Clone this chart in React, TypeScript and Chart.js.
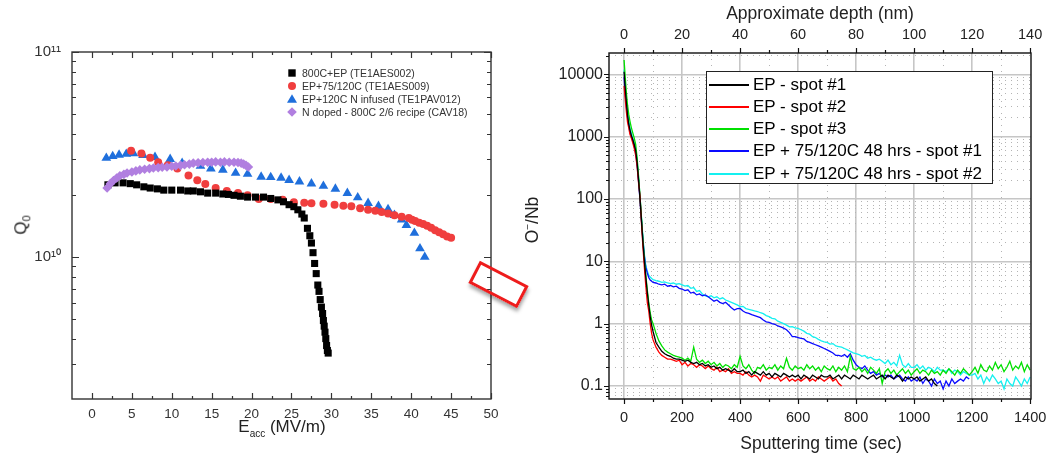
import React, { useEffect, useRef } from 'react';
import { Chart, registerables } from 'chart.js';
Chart.register(...registerables);

const FONT = "'Liberation Sans', Arial, sans-serif";

// ---------------- Left chart: Q0 vs Eacc ----------------
const legendLeft = [
  '800C+EP (TE1AES002)',
  'EP+75/120C (TE1AES009)',
  'EP+120C N infused (TE1PAV012)',
  'N doped - 800C 2/6 recipe (CAV18)',
];

const eBaseline = [2.0, 2.9, 3.9, 4.8, 5.6, 6.5, 7.3, 8.2, 9.0, 10.0, 11.1, 12.0, 12.7, 13.6, 14.5, 15.5, 16.4, 17.1, 17.8, 18.6, 19.5, 20.5, 21.5, 22.4, 23.3, 24.0, 24.7, 25.3, 25.8, 26.3, 26.6, 27.0, 27.3, 27.5, 27.7, 27.9, 28.1, 28.3, 28.45, 28.6, 28.75, 28.9, 29.0, 29.1, 29.2, 29.3, 29.4, 29.5, 29.6];
const qBaseline = [2.25, 2.3, 2.3, 2.28, 2.25, 2.2, 2.17, 2.15, 2.12, 2.12, 2.12, 2.1, 2.1, 2.08, 2.05, 2.05, 2.03, 2.02, 2.0, 1.98, 1.96, 1.96, 1.96, 1.93, 1.9, 1.86, 1.8, 1.76, 1.7, 1.62, 1.55, 1.38, 1.27, 1.17, 1.05, 0.93, 0.83, 0.73, 0.68, 0.62, 0.57, 0.53, 0.49, 0.46, 0.43, 0.4, 0.37, 0.35, 0.34];

const eLowT = [4.9, 6.2, 7.3, 8.3, 9.5, 10.7, 12.1, 13.2, 14.2, 15.5, 16.9, 18.3, 19.5, 20.9, 22.4, 23.9, 25.3, 26.6, 27.5, 29.0, 30.4, 31.5, 32.5, 33.6, 34.6, 35.5, 36.3, 37.1, 37.9, 38.8, 39.7, 40.1, 40.5, 41.0, 41.5, 42.0, 42.5, 43.0, 43.5, 44.0, 44.5, 45.0];
const qLowT = [3.3, 3.2, 3.05, 2.9, 2.8, 2.7, 2.5, 2.37, 2.27, 2.17, 2.1, 2.05, 2.0, 1.92, 1.92, 1.9, 1.85, 1.84, 1.83, 1.82, 1.8, 1.78, 1.77, 1.73, 1.7, 1.68, 1.66, 1.63, 1.6, 1.57, 1.55, 1.52, 1.5, 1.47, 1.45, 1.42, 1.39, 1.35, 1.32, 1.29, 1.26, 1.24];

const eInfused = [1.8, 2.6, 3.4, 4.3, 5.2, 6.4, 7.9, 9.8, 11.3, 13.6, 14.9, 16.4, 18.0, 19.5, 21.2, 22.4, 23.7, 24.7, 26.0, 27.5, 29.0, 30.5, 32.0, 33.3, 34.6, 35.9, 37.1, 37.9, 38.8, 39.4, 40.4, 41.1, 41.7];
const qInfused = [3.04, 3.1, 3.15, 3.18, 3.2, 3.14, 3.07, 3.0, 2.87, 2.78, 2.7, 2.66, 2.57, 2.54, 2.46, 2.45, 2.43, 2.37, 2.33, 2.28, 2.22, 2.15, 2.05, 1.95, 1.83, 1.77, 1.71, 1.6, 1.52, 1.43, 1.31, 1.1, 1.0];

const eDoped = [1.9, 2.3, 2.7, 3.1, 3.5, 4.0, 4.4, 5.0, 5.5, 6.0, 6.6, 7.2, 7.7, 8.3, 8.8, 9.4, 10.0, 10.5, 11.1, 11.6, 12.2, 12.7, 13.3, 13.9, 14.5, 15.0, 15.5, 16.1, 16.6, 17.2, 17.8, 18.3, 18.7, 19.0, 19.3, 19.6];
const qDoped = [2.17, 2.28, 2.36, 2.43, 2.49, 2.53, 2.57, 2.6, 2.63, 2.66, 2.68, 2.7, 2.72, 2.73, 2.74, 2.75, 2.77, 2.78, 2.8, 2.82, 2.84, 2.87, 2.88, 2.89, 2.9, 2.9, 2.91, 2.9, 2.91, 2.9, 2.9, 2.89, 2.87, 2.84, 2.8, 2.75];
const qUnit = 1e10;

const eTickLabels = [0, 5, 10, 15, 20, 25, 30, 35, 40, 45, 50];
const qMajorTicks = [1e10, 1e11];
const qMajorLabels = ['10¹⁰', '10¹¹'];

// ---------------- Right chart: O-/Nb vs sputtering time ----------------
const legendRight = ['EP - spot #1', 'EP - spot #2', 'EP - spot #3', 'EP + 75/120C 48 hrs - spot #1', 'EP + 75/120C 48 hrs - spot #2'];

const sputterTime = [0, 4, 8, 12, 16, 20, 25, 30, 35, 40, 45, 50, 55, 60, 65, 70, 75, 80, 85, 90, 95,
  100, 110, 120, 130, 140, 150, 160, 170, 180, 190,
  200, 210, 220, 230, 240, 250, 260, 270, 280, 290,
  300, 310, 320, 330, 340, 350, 360, 370, 380, 390,
  400, 410, 420, 430, 440, 450, 460, 470, 480, 490,
  500, 510, 520, 530, 540, 550, 560, 570, 580, 590,
  600, 610, 620, 630, 640, 650, 660, 670, 680, 690,
  700, 710, 720, 730, 740, 750, 760, 770, 780, 790,
  800, 810, 820, 830, 840, 850, 860, 870, 880, 890,
  900, 910, 920, 930, 940, 950, 960, 970, 980, 990,
  1000, 1010, 1020, 1030, 1040, 1050, 1060, 1070, 1080, 1090,
  1100, 1110, 1120, 1130, 1140, 1150, 1160, 1170, 1180, 1190,
  1200, 1210, 1220, 1230, 1240, 1250, 1260, 1270, 1280, 1290,
  1300, 1310, 1320, 1330, 1340, 1350, 1360, 1370, 1380, 1390, 1400];

const oEpSpot1 = [11000, 6000, 3500, 2200, 1600, 1300, 1050, 900, 750, 600, 380, 200, 100, 45, 20, 10, 5.5, 3.2, 2.0, 1.3, 0.95,
  0.75, 0.5, 0.42, 0.36, 0.33, 0.31, 0.3, 0.28, 0.27, 0.27,
  0.26, 0.25, 0.26, 0.24, 0.23, 0.24, 0.22, 0.23, 0.21, 0.22,
  0.2, 0.21, 0.19, 0.2, 0.18, 0.19, 0.18, 0.17, 0.19, 0.17,
  0.17, 0.18, 0.16, 0.17, 0.15, 0.17, 0.16, 0.15, 0.17, 0.15,
  0.16, 0.14, 0.16, 0.15, 0.14, 0.16, 0.15, 0.14, 0.15, 0.14,
  0.15, 0.13, 0.15, 0.14, 0.13, 0.15, 0.14, 0.13, 0.15, 0.14,
  0.14, 0.15, 0.13, 0.14, 0.15, 0.13, 0.15, 0.14, 0.13, 0.15,
  0.14, 0.13, 0.15, 0.14, 0.13, 0.14, 0.15, 0.13, 0.14, 0.15,
  0.13, 0.15, 0.14, 0.13, 0.15, 0.14, 0.12, 0.14, 0.13, 0.14,
  0.13, 0.14, 0.12, 0.13, 0.14, 0.12, 0.13, 0.11, 0.1];

const oEpSpot2 = [6500, 4000, 2500, 1700, 1400, 1100, 950, 800, 650, 500, 330, 180, 110, 40, 17, 8, 4, 2.2, 1.6, 1.0, 0.7,
  0.55, 0.42, 0.35, 0.31, 0.29, 0.27, 0.27, 0.26, 0.25, 0.26,
  0.22, 0.24, 0.21, 0.23, 0.22, 0.2, 0.22, 0.21, 0.19, 0.21,
  0.19, 0.18, 0.2, 0.17, 0.18, 0.17, 0.19, 0.16, 0.17, 0.16,
  0.16, 0.15, 0.17, 0.15, 0.14, 0.15, 0.14, 0.12, 0.15, 0.14,
  0.13, 0.14, 0.13, 0.14, 0.12, 0.13, 0.14, 0.12, 0.13, 0.12,
  0.13, 0.12, 0.13, 0.14, 0.12, 0.13, 0.12, 0.14, 0.13, 0.12,
  0.13, 0.14, 0.12, 0.13, 0.11, 0.1];

const oEpSpot3 = [17000, 9000, 5000, 3200, 2300, 1800, 1400, 1150, 950, 750, 450, 230, 110, 50, 22, 11, 6, 3.5, 2.2, 1.5, 1.15,
  1.0, 0.7, 0.53, 0.44, 0.38, 0.35, 0.33, 0.31, 0.3, 0.29,
  0.28, 0.26, 0.28, 0.25, 0.42, 0.27, 0.24, 0.26, 0.23, 0.25,
  0.22, 0.24, 0.21, 0.23, 0.2, 0.22, 0.21, 0.19, 0.22, 0.2,
  0.3, 0.21, 0.19, 0.22, 0.18, 0.16, 0.2, 0.19, 0.22, 0.18,
  0.2, 0.19, 0.22, 0.18, 0.21, 0.19, 0.28, 0.2, 0.18, 0.21,
  0.19, 0.2, 0.18, 0.22, 0.19, 0.21, 0.18, 0.2, 0.17, 0.21,
  0.19, 0.18, 0.21, 0.17, 0.2, 0.18, 0.21, 0.17, 0.3, 0.19,
  0.18, 0.2, 0.17, 0.19, 0.16, 0.2, 0.18, 0.16, 0.19, 0.11,
  0.17, 0.19, 0.16, 0.18, 0.15, 0.17, 0.19, 0.16, 0.18, 0.15,
  0.17, 0.19, 0.16, 0.18, 0.17, 0.15, 0.18, 0.16, 0.17, 0.15,
  0.18, 0.16, 0.19, 0.17, 0.15, 0.18, 0.16, 0.19, 0.17, 0.15,
  0.17, 0.2, 0.16, 0.22, 0.18, 0.17, 0.21, 0.18, 0.24, 0.19,
  0.22, 0.17, 0.2, 0.25, 0.18, 0.21, 0.19, 0.24, 0.17, 0.22, 0.18];

const oBakedSpot1 = [9000, 5000, 3000, 2000, 1500, 1200, 1000, 850, 700, 550, 350, 190, 95, 45, 22, 12, 8, 6.5, 5.5, 5.0, 4.8,
  4.6, 4.5, 4.3, 4.2, 4.3, 4.0, 4.1, 3.9, 4.0, 3.7,
  3.6, 3.4, 3.5, 3.1, 3.2, 2.9, 3.0, 2.8, 2.9, 2.7,
  2.5, 2.3, 2.4, 2.2, 2.1, 2.2, 2.0, 1.8, 1.66, 1.75,
  1.76, 1.6, 1.5, 1.47, 1.4, 1.35, 1.3, 1.25, 1.15, 1.07,
  1.05, 1.0, 0.98, 0.92, 0.89, 0.85, 0.8, 0.72, 0.62, 0.62,
  0.6, 0.58, 0.57, 0.52, 0.5, 0.48, 0.46, 0.44, 0.42, 0.4,
  0.38, 0.36, 0.34, 0.31, 0.31, 0.3, 0.32, 0.29, 0.33, 0.26,
  0.22, 0.2, 0.19, 0.21, 0.18, 0.16, 0.17, 0.15, 0.16, 0.14,
  0.15, 0.14, 0.15, 0.13, 0.14, 0.15, 0.13, 0.12, 0.14, 0.12,
  0.13, 0.12, 0.14, 0.11, 0.13, 0.12, 0.1, 0.13, 0.11, 0.12,
  0.09, 0.12, 0.1, 0.13, 0.11, 0.12, 0.13, 0.12, 0.14, 0.13];

const oBakedSpot2 = [12000, 6500, 3800, 2500, 1800, 1400, 1150, 950, 800, 650, 420, 220, 110, 50, 24, 13, 8.5, 7, 6, 5.6, 5.3,
  5.1, 4.9, 4.8, 4.6, 4.7, 4.5, 4.4, 4.5, 4.3, 4.4,
  4.2, 4.0, 4.1, 3.7, 3.8, 3.3, 3.4, 3.0, 2.8, 2.7,
  2.8, 2.6, 2.7, 2.5, 2.6, 2.4, 2.3, 2.2, 2.1, 2.0,
  1.88, 1.9, 1.75, 1.7, 1.65, 1.6, 1.57, 1.5, 1.45, 1.35,
  1.3, 1.22, 1.2, 1.1, 1.05, 1.0, 0.95, 0.89, 0.9, 0.86,
  0.84, 0.8, 0.76, 0.7, 0.68, 0.62, 0.6, 0.56, 0.53, 0.51,
  0.5, 0.47, 0.48, 0.44, 0.43, 0.42, 0.4, 0.38, 0.36, 0.34,
  0.33, 0.32, 0.3, 0.31, 0.28, 0.29, 0.27, 0.26, 0.27, 0.25,
  0.23, 0.26, 0.22, 0.24, 0.21, 0.31, 0.22, 0.2, 0.23, 0.2,
  0.2, 0.22, 0.19, 0.21, 0.18, 0.2, 0.19, 0.17, 0.2, 0.18,
  0.18, 0.17, 0.19, 0.16, 0.18, 0.17, 0.15, 0.17, 0.16, 0.15,
  0.15, 0.16, 0.13, 0.15, 0.11, 0.14, 0.12, 0.15, 0.13, 0.11,
  0.12, 0.09, 0.13, 0.11, 0.1, 0.14, 0.12, 0.1, 0.13, 0.11, 0.14];

const timeMajorTicks = [0, 200, 400, 600, 800, 1000, 1200, 1400];
const timeMinorTicks = [100, 300, 500, 700, 900, 1100, 1300];
const depthMajorTicks = [0, 20, 40, 60, 80, 100, 120, 140];
const depthMinorTicks = [10, 30, 50, 70, 90, 110, 130];
const ratioDecades = [0.01, 0.1, 1, 10, 100, 1000, 10000];

const rightColors = ['#000000', '#ff0000', '#00e000', '#0a0aff', '#14f0f0'];

// ---------------- helpers ----------------
type TickSpec = { scale: string; side: 'left' | 'right' | 'top' | 'bottom'; values: number[]; len: number; inward: boolean };

function makeFramePlugin(id: string, color: string, width: number, specs: TickSpec[]) {
  return {
    id,
    afterDatasetsDraw(chart: any) {
      const { ctx, chartArea: a } = chart;
      ctx.save();
      ctx.setLineDash([]);
      ctx.strokeStyle = color;
      ctx.lineWidth = width;
      ctx.strokeRect(a.left, a.top, a.right - a.left, a.bottom - a.top);
      ctx.beginPath();
      for (const s of specs) {
        const sc = chart.scales[s.scale];
        for (const v of s.values) {
          const p = Math.round(sc.getPixelForValue(v)) + 0.5;
          const d = s.inward ? s.len : -s.len;
          if (s.side === 'bottom') { ctx.moveTo(p, a.bottom); ctx.lineTo(p, a.bottom - d); }
          else if (s.side === 'top') { ctx.moveTo(p, a.top); ctx.lineTo(p, a.top + d); }
          else if (s.side === 'left') { ctx.moveTo(a.left, p); ctx.lineTo(a.left + d, p); }
          else { ctx.moveTo(a.right, p); ctx.lineTo(a.right - d, p); }
        }
      }
      ctx.lineWidth = 1.2;
      ctx.stroke();
      ctx.restore();
    },
  };
}

function logTicks(min: number, max: number, decades: number[]) {
  const out: { value: number; major: boolean }[] = [];
  for (const d of decades) {
    for (let m = 1; m <= 9; m++) {
      const v = m === 1 ? d : parseFloat((m * d).toPrecision(6));
      if (v >= min && v <= max) out.push({ value: v, major: m === 1 });
    }
  }
  return out;
}

const LeftChart: React.FC = () => {
  const ref = useRef<HTMLCanvasElement>(null);
  useEffect(() => {
    if (!ref.current) return;
    const qMin = 2.03e9, qMax = 1e11;
    const qTicks = logTicks(qMin, qMax, [1e9, 1e10, 1e11]);
    const xMinor = [2.5, 7.5, 12.5, 17.5, 22.5, 27.5, 32.5, 37.5, 42.5, 47.5];
    const mk = (e: number[], q: number[]) => e.map((x, i) => ({ x, y: q[i] * qUnit }));
    const frame = makeFramePlugin('leftFrame', '#333', 1.4, [
      { scale: 'x', side: 'bottom', values: eTickLabels, len: 6, inward: true },
      { scale: 'x', side: 'bottom', values: xMinor, len: 3, inward: true },
      { scale: 'x', side: 'top', values: eTickLabels, len: 6, inward: true },
      { scale: 'x', side: 'top', values: xMinor, len: 3, inward: true },
      { scale: 'y', side: 'left', values: qTicks.filter(t => t.major).map(t => t.value), len: 7, inward: true },
      { scale: 'y', side: 'left', values: qTicks.filter(t => !t.major).map(t => t.value), len: 4, inward: true },
      { scale: 'y', side: 'right', values: qTicks.filter(t => t.major).map(t => t.value), len: 7, inward: true },
      { scale: 'y', side: 'right', values: qTicks.filter(t => !t.major).map(t => t.value), len: 4, inward: true },
    ]);
    const chart = new Chart(ref.current, {
      type: 'scatter',
      data: {
        datasets: [
          { label: legendLeft[3], data: mk(eDoped, qDoped), pointStyle: 'rectRot', pointRadius: 4.8, backgroundColor: '#b17fe0', borderColor: '#b17fe0', borderWidth: 0, order: 0 },
          { label: legendLeft[0], data: mk(eBaseline, qBaseline), pointStyle: 'rect', pointRadius: 5, backgroundColor: '#000', borderColor: '#000', borderWidth: 0, order: 1 },
          { label: legendLeft[1], data: mk(eLowT, qLowT), pointStyle: 'circle', pointRadius: 4, backgroundColor: '#f03e3e', borderColor: '#f03e3e', borderWidth: 0, order: 2 },
          { label: legendLeft[2], data: mk(eInfused, qInfused), pointStyle: 'triangle', pointRadius: 5.6, backgroundColor: '#1f6fdc', borderColor: '#1f6fdc', borderWidth: 0, order: 3 },
        ],
      },
      options: {
        animation: false,
        responsive: false,
        events: [],
        layout: { padding: { left: 0, right: 29, top: 52, bottom: 0 } },
        plugins: { legend: { display: false }, tooltip: { enabled: false } },
        scales: {
          x: {
            type: 'linear', min: -2.5, max: 50,
            afterFit: (s: any) => { s.height = 56; },
            afterBuildTicks: (s: any) => { s.ticks = eTickLabels.map(v => ({ value: v })); },
            grid: { display: false, drawTicks: false },
            border: { display: false },
            ticks: { autoSkip: false, maxRotation: 0, padding: 7, color: '#333', font: { family: FONT, size: 13.5 } },
          },
          y: {
            type: 'logarithmic', min: qMin, max: qMax,
            afterFit: (s: any) => { s.width = 72; },
            afterBuildTicks: (s: any) => { s.ticks = qTicks.map(t => ({ value: t.value })); },
            grid: { display: false, drawTicks: false },
            border: { display: false },
            ticks: {
              autoSkip: false, padding: 11, color: '#333', font: { family: FONT, size: 15 },
              callback: (v: any) => { const i = qMajorTicks.indexOf(Number(v)); return i >= 0 ? qMajorLabels[i] : ''; },
            },
          },
        },
      },
      plugins: [frame],
    } as any);
    return () => chart.destroy();
  }, []);
  return <canvas ref={ref} width={520} height={455} style={{ position: 'absolute', left: 0, top: 0 }} />;
};

const RightChart: React.FC = () => {
  const ref = useRef<HTMLCanvasElement>(null);
  useEffect(() => {
    if (!ref.current) return;
    const yMin = 0.062, yMax = 22000;
    const yTicks = logTicks(yMin, yMax, ratioDecades);
    const series = [oEpSpot1, oEpSpot2, oEpSpot3, oBakedSpot1, oBakedSpot2];
    const allTime = [...timeMajorTicks, ...timeMinorTicks].sort((a, b) => a - b);
    const frame = makeFramePlugin('rightFrame', '#111', 1.4, [
      { scale: 'y', side: 'left', values: yTicks.filter(t => t.major).map(t => t.value), len: 5, inward: false },
      { scale: 'y', side: 'left', values: yTicks.filter(t => !t.major).map(t => t.value), len: 3, inward: false },
      { scale: 'x', side: 'bottom', values: timeMajorTicks, len: 5, inward: false },
      { scale: 'x', side: 'bottom', values: timeMinorTicks, len: 3, inward: false },
      { scale: 'x2', side: 'top', values: depthMajorTicks, len: 5, inward: false },
      { scale: 'x2', side: 'top', values: depthMinorTicks, len: 3, inward: false },
    ]);
    const chart = new Chart(ref.current, {
      type: 'line',
      data: {
        datasets: series.map((vals, k) => ({
          label: legendRight[k],
          data: vals.map((y, i) => ({ x: sputterTime[i], y })),
          borderColor: rightColors[k],
          backgroundColor: rightColors[k],
          borderWidth: 1.3,
          pointRadius: 0,
          tension: 0,
          xAxisID: 'x',
          yAxisID: 'y',
        })),
      },
      options: {
        animation: false,
        responsive: false,
        events: [],
        layout: { padding: { left: 0, right: 26, top: 0, bottom: 0 } },
        plugins: { legend: { display: false }, tooltip: { enabled: false } },
        scales: {
          x: {
            type: 'linear', position: 'bottom', min: -52, max: 1403,
            afterFit: (s: any) => { s.height = 56; },
            afterBuildTicks: (s: any) => { s.ticks = allTime.map(v => ({ value: v })); },
            grid: {
              drawTicks: false,
              color: (c: any) => (c.tick && c.tick.value >= 1400 ? 'rgba(0,0,0,0)' : c.tick && c.tick.value % 200 === 0 ? '#c6c6c6' : '#b4b4b4'),
              lineWidth: (c: any) => (c.tick && c.tick.value % 200 === 0 ? 1.6 : 1),
            },
            border: { display: false, dash: (c: any) => (c.tick && c.tick.value % 200 === 0 ? [] : [1, 5]) },
            ticks: {
              autoSkip: false, maxRotation: 0, padding: 10, color: '#222', font: { family: FONT, size: 14.5 },
              callback: (v: any) => (Number(v) % 200 === 0 ? String(v) : ''),
            },
          },
          x2: {
            type: 'linear', position: 'top', min: -5.2, max: 140.3,
            afterFit: (s: any) => { s.height = 53; },
            afterBuildTicks: (s: any) => { s.ticks = depthMajorTicks.map(v => ({ value: v })); },
            grid: { display: false, drawTicks: false },
            border: { display: false },
            ticks: { autoSkip: false, maxRotation: 0, padding: 9, color: '#222', font: { family: FONT, size: 14.5 } },
          },
          y: {
            type: 'logarithmic', position: 'left', min: yMin, max: yMax,
            afterFit: (s: any) => { s.width = 89; },
            afterBuildTicks: (s: any) => { s.ticks = yTicks.map(t => ({ value: t.value, major: false, isMajor: t.major })); },
            grid: {
              drawTicks: false,
              color: (c: any) => (c.tick && c.tick.isMajor ? '#c6c6c6' : '#b4b4b4'),
              lineWidth: (c: any) => (c.tick && c.tick.isMajor ? 1.6 : 1),
            },
            border: { display: false, dash: (c: any) => (c.tick && c.tick.isMajor ? [] : [1, 5]) },
            ticks: {
              autoSkip: false, padding: 6, color: '#222', font: { family: FONT, size: 16 },
              callback: (v: any, i: number, ts: any[]) => (ts[i] && ts[i].isMajor ? String(v) : ''),
            },
          },
        },
      },
      plugins: [frame],
    } as any);
    return () => chart.destroy();
  }, []);
  return <canvas ref={ref} width={537} height={455} style={{ position: 'absolute', left: 520, top: 0 }} />;
};

const Marker: React.FC<{ kind: number }> = ({ kind }) => {
  const s = 10;
  let el: React.ReactNode = null;
  if (kind === 0) el = <rect x={1.3} y={1.3} width={7.4} height={7.4} fill="#000" />;
  if (kind === 1) el = <circle cx={5} cy={5} r={4} fill="#f03e3e" />;
  if (kind === 2) el = <polygon points="5,0.2 10,8.8 0,8.8" fill="#1f6fdc" />;
  if (kind === 3) el = <polygon points="5,0.2 9.8,5 5,9.8 0.2,5" fill="#b17fe0" />;
  return <svg width={s} height={s} style={{ position: 'absolute', left: -15, top: -5 }}>{el}</svg>;
};

const App: React.FC = () => {
  const abs = (l: number, t: number): React.CSSProperties => ({ position: 'absolute', left: l, top: t });
  return (
    <div style={{ position: 'absolute', left: 0, top: 0, width: 1057, height: 455, background: '#fff', fontFamily: FONT, overflow: 'hidden' }}>
      <LeftChart />
      <RightChart />

      {/* Left chart legend */}
      {legendLeft.map((t, i) => (
        <div key={t} style={{ ...abs(302, 73.3 + i * 12.8), transform: 'translateY(-50%)', fontSize: 10.5, color: '#333', whiteSpace: 'nowrap', lineHeight: '12px' }}>
          <div style={{ position: 'absolute', left: 0, top: 6 }}><Marker kind={i} /></div>
          {t}
        </div>
      ))}

      {/* Left axis titles */}
      <div style={{ ...abs(22, 225), transform: 'translate(-50%,-50%) rotate(-90deg)', fontSize: 17, color: '#222', whiteSpace: 'nowrap' }}>
        Q<sub style={{ fontSize: 11 }}>0</sub>
      </div>
      <div style={{ ...abs(282, 428), transform: 'translate(-50%,-50%)', fontSize: 17, color: '#222', whiteSpace: 'nowrap' }}>
        E<sub style={{ fontSize: 10 }}>acc</sub> (MV/m)
      </div>

      {/* Right axis titles */}
      <div style={{ ...abs(820, 13), transform: 'translate(-50%,-50%)', fontSize: 17.5, color: '#222', whiteSpace: 'nowrap' }}>Approximate depth (nm)</div>
      <div style={{ ...abs(821, 443), transform: 'translate(-50%,-50%)', fontSize: 17.5, color: '#222', whiteSpace: 'nowrap' }}>Sputtering time (sec)</div>
      <div style={{ ...abs(532, 220), transform: 'translate(-50%,-50%) rotate(-90deg)', fontSize: 17.5, color: '#222', whiteSpace: 'nowrap' }}>
        O<sup style={{ fontSize: 10 }}>−</sup>/Nb
      </div>

      {/* Right chart legend */}
      <div style={{ ...abs(706, 71), width: 287, height: 113, border: '1px solid #222', background: '#fff', boxSizing: 'border-box' }}>
        {legendRight.map((t, i) => (
          <div key={t} style={{ position: 'absolute', left: 0, top: 12.5 + i * 22.3, height: 0 }}>
            <div style={{ position: 'absolute', left: 2, top: -1, width: 40, height: 2, background: rightColors[i] }} />
            <div style={{ position: 'absolute', left: 46, top: -11, fontSize: 17, lineHeight: '22px', color: '#000', whiteSpace: 'nowrap' }}>{t}</div>
          </div>
        ))}
      </div>

      {/* Red callout rectangle */}
      <div style={{ ...abs(498.5, 284), width: 55, height: 25, marginLeft: -27.5, marginTop: -12.5, border: '3.5px solid #ee1c1c', boxSizing: 'border-box', transform: 'rotate(27.4deg)', boxShadow: '2px 3px 4px rgba(0,0,0,0.35)' }} />
    </div>
  );
};

export default App;
